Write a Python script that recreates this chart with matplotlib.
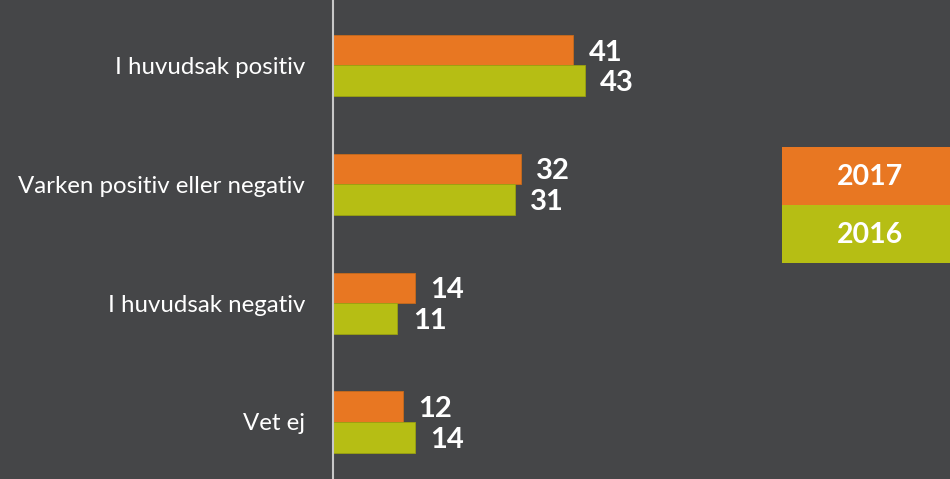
import matplotlib
matplotlib.use("Agg")
import matplotlib.pyplot as plt
import numpy as np
from matplotlib.patches import Rectangle

categories = ["I huvudsak positiv", "Varken positiv eller negativ", "I huvudsak negativ", "Vet ej"]
series_names = ["2017", "2016"]
values_2017 = [41, 32, 14, 12]
values_2016 = [43, 31, 11, 14]

BG = "#454648"
ORANGE = "#E87722"
GREEN = "#B6BE14"

plt.rcParams['font.family'] = ['Lato', 'DejaVu Sans']

W, H = 950, 479
fig = plt.figure(figsize=(W / 100, H / 100), dpi=100, facecolor=BG)
ax_left = 333 / W
ax = fig.add_axes([ax_left, 0, 1 - ax_left, 1])
ax.set_facecolor(BG)

y = np.arange(len(categories))
h = 0.257
ax.barh(y - h / 2, values_2017, height=h, color=ORANGE, edgecolor="#c86a1c", linewidth=0.6)
ax.barh(y + h / 2, values_2016, height=h, color=GREEN, edgecolor="#9aa210", linewidth=0.6)

for yi, v in zip(y - h / 2, values_2017):
    ax.text(v + 2.6, yi + 0.02, str(v), color="white", fontsize=21, fontweight="bold",
            ha="left", va="center")
for yi, v in zip(y + h / 2, values_2016):
    ax.text(v + 2.6, yi + 0.02, str(v), color="white", fontsize=21, fontweight="bold",
            ha="left", va="center")

ax.set_xlim(0, (W - 333) / 5.86)
ax.set_ylim(3.48, -0.551)

ax.set_yticks(y)
ax.set_yticklabels(categories, color="white", fontsize=17.3)
ax.tick_params(axis="y", length=0, pad=20)
ax.set_xticks([])
for s in ["top", "right", "bottom"]:
    ax.spines[s].set_visible(False)
ax.spines["left"].set_color("#c8c8c8")
ax.spines["left"].set_linewidth(1.5)

# legend boxes
lx0 = 782 / W
bw = 1 - lx0
for i, (name, col) in enumerate(zip(series_names, [ORANGE, GREEN])):
    top = 147 + i * 58
    fig.patches.append(Rectangle((lx0, 1 - (top + 58) / H), bw, 58 / H,
                                 transform=fig.transFigure, facecolor=col, edgecolor="none"))
    fig.text(870 / W, 1 - (top + 30) / H, name, color="white", fontsize=20.5,
             fontweight="bold", ha="center", va="center")

fig.savefig("out.png", dpi=100, facecolor=BG)
